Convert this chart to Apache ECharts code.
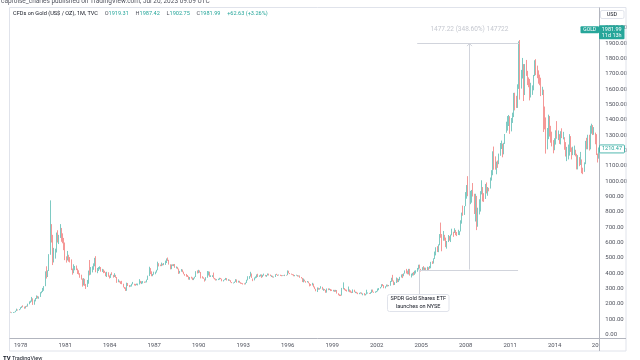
<!DOCTYPE html>
<html>
<head>
<meta charset="utf-8">
<script src="https://cdn.jsdelivr.net/npm/echarts@6/dist/echarts.min.js"></script>
<style>
html,body{margin:0;padding:0;background:#fff;}
#c{width:640px;height:360px;}
</style>
</head>
<body>
<div id="c"></div>
<script>
// Monthly candles, May 1977 .. Jan 2017
const startYear = 1977, startMonth = 5;
const opens = [
/*1977*/147.8,143.0,143.4,144.1,146.0,154.1,161.5,160.5,
/*1978*/165.0,175.8,182.3,181.6,170.9,184.2,183.1,200.3,208.6,217.1,242.6,195.0,
/*1979*/226.0,233.7,251.3,240.1,245.3,274.6,277.5,296.5,315.1,397.3,382.0,415.7,
/*1980*/524,653,637,494,518,535,653,614,631,666,629,619,
/*1981*/589.5,506.5,489,513.8,482.8,479.3,426,406,425.5,428.8,427,414.5,
/*1982*/397.5,387,362.6,320,361.3,325.3,317,342.9,411.5,397,423.3,436,
/*1983*/456.9,481,408.5,414.8,429.3,437.5,416,422,414.3,405,382,405,
/*1984*/381.5,370.8,394.3,388.5,375.8,384.3,373.8,342.4,348.3,343.8,333.5,329,
/*1985*/309,306.7,287.8,329.8,321.4,316.9,317.8,327.5,333.3,326.5,325.1,325.3,
/*1986*/327,345.5,338.2,344,345.8,343.2,345.5,357.5,384.7,423.2,401,383.5,
/*1987*/390.9,405.8,405.9,421.1,453.3,451,447.3,462.5,453.4,459.5,469.5,492.5,
/*1988*/486.5,458,426.2,456.9,449,455.5,436.6,436.8,427.8,397.7,412.4,422.6,
/*1989*/410.2,394,387,383.2,377.6,361.8,373,368.3,359.8,366.5,375.3,408.2,
/*1990*/401,415.1,407.7,368.5,367.8,363.1,352.2,372.3,387.8,408.4,379.5,384.9,
/*1991*/386.2,366,362.7,355.7,357.8,360.4,368.4,362.9,347.4,354.9,357.5,366.3,
/*1992*/353.2,354.1,353.1,341.7,336.4,337.5,343.4,357.9,340,349,339.3,334.2,
/*1993*/333,330.5,327.6,337.8,354.3,377.5,378.5,401.8,371.6,355.5,369.6,370.9,
/*1994*/391.8,378,381.4,389.2,376.5,387.6,388.3,384,385.8,394.9,389.1,383.1,
/*1995*/383.3,374.9,376.4,392,389.8,385.3,387.1,383.4,382.4,383.8,382.7,387.8,
/*1996*/387,405.6,400.7,396.4,391.3,390.6,382,385.3,386.5,379,379.5,371.3,
/*1997*/369.3,345.5,358.6,348.2,340.2,345.6,334.6,326.4,325.4,332.1,311.4,296.8,
/*1998*/289.9,304.9,297.4,301,310.7,293.6,296.3,288.9,273.4,293.9,292.3,294.7,
/*1999*/288,287.1,287.3,279.5,286.6,268.6,261,255.6,254.8,299,299.1,291.4,
/*2000*/290.3,283.3,293.7,276.8,275.1,272.3,288.2,276.8,277,273.7,264.5,269.1,
/*2001*/272.7,265.6,266.7,257.7,263.2,267.5,270.6,265.9,273,293.1,278.8,275.5,
/*2002*/279,282.3,296.9,301.4,308.2,326.6,318.5,304.7,312.8,323.7,316.9,319.1,
/*2003*/347.2,368.1,347.5,334.9,336.8,361.4,346,354.8,375.6,388,386.3,398.4,
/*2004*/416.3,402.2,396.9,426,388.5,393.3,395.8,391.4,407.3,418,428.5,452.1,
/*2005*/438,422.2,434.5,429,435.7,414.5,437.1,429,433.3,473.3,470.8,495.7,
/*2006*/513,568.8,556,582,654.5,643.5,613.5,632.5,623.5,599.3,603.8,646.7,
/*2007*/632,650.5,666.3,661.8,679.4,659.1,650.5,665.5,672,742.8,794,783.5,
/*2008*/833.8,923.3,972.5,916.2,865,887.1,928.3,914,833,884.5,718,814.5,
/*2009*/869.8,927.3,942,924.3,890.7,979.4,927.2,955.5,952,1008.8,1039.9,1181.6,
/*2010*/1096.5,1083.5,1118.6,1113.3,1179.3,1212.7,1244,1181.7,1247.5,1307.8,1358.9,1385.6,
/*2011*/1421.1,1333.1,1409.3,1439,1556,1536.2,1500.3,1628.3,1826,1620,1722,1746,
/*2012*/1564,1737,1710,1668,1664,1561,1604,1622,1693,1773,1720,1714,
/*2013*/1675,1663,1578,1595,1472,1392,1234,1313,1396,1327,1323,1253,
/*2014*/1202,1244,1326,1284,1296,1250,1327,1282,1287,1210,1171,1182,
/*2015*/1183,1283,1212,1183,1183,1190,1172,1095,1132,1115,1142,1065,
/*2016*/1061,1118,1238,1233,1293,1215,1322,1351,1309,1316,1277,1173,
/*2017*/1152
];
const highs = [
/*1977*/148.5,144.5,146.5,147.5,155.0,168.5,163.0,166.0,
/*1978*/178,184,190,182,185,188,201,216,221,245,236,227,
/*1979*/238,255,252,248,276,282,304,316,412,445,418,524,
/*1980*/875,720,650,565,560,665,680,650,720,695,660,630,
/*1981*/600,510,545,520,505,490,430,458,447,450,430,419,
/*1982*/400,390,365,368,363,330,356,417,486,440,445,464,
/*1983*/500,511,434,440,445,440,428,425,416,406,409,406,
/*1984*/385,396,406,389,400,389,375,360,351,347,350,331,
/*1985*/310,307,338,336,322,321,331,343,331,330,332,332,
/*1986*/361,350,347,349,345,346,358,384,442,433,412,395,
/*1987*/410,410,422,475,465,456,469,462,466,482,496,502,
/*1988*/487,458,457,458,459,460,444,441,430,415,427,424,
/*1989*/410,395,395,388,379,375,377,372,370,377,413,418,
/*1990*/422,418,408,380,373,364,374,414,412,410,386,387,
/*1991*/404,369,364,361,364,370,369,364,356,360,369,368,
/*1992*/361,358,354,342,339,345,361,359,351,350,341,337,
/*1993*/335,334,339,357,380,381,409,398,365,372,379,392,
/*1994*/396,386,392,392,389,397,389,388,398,397,391,386,
/*1995*/383,378,393,396,390,391,390,388,386,386,390,389,
/*1996*/418,416,401,397,394,392,388,390,388,385,385,375,
/*1997*/369,365,358,348,349,346,335,329,337,332,313,298,
/*1998*/307,305,302,315,311,300,297,291,300,301,300,297,
/*1999*/293,291,291,291,290,269,262,260,304,340,303,295,
/*2000*/292,313,294,288,280,294,292,280,278,273,272,275,
/*2001*/274,268,270,265,292,274,271,276,293,293,279,281,
/*2002*/284,300,303,310,328,329,322,315,326,325,323,349,
/*2003*/370,389,352,341,372,367,363,376,392,395,399,418,
/*2004*/428,417,428,428,397,402,408,416,419,434,455,456,
/*2005*/428,439,446,437,436,442,439,447,474,478,497,541,
/*2006*/569,576,588,655,730,655,675,650,632,610,649,642,
/*2007*/652,690,670,693,682,669,683,674,745,795,841,838,
/*2008*/929,975,1033,933,937,943,988,918,918,904,827,882,
/*2009*/935,1006,962,922,982,992,962,957,1024,1072,1195,1226,
/*2010*/1162,1128,1135,1180,1249,1265,1245,1250,1308,1388,1425,1432,
/*2011*/1424,1412,1447,1576,1577,1557,1632,1912,1921,1726,1804,1764,
/*2012*/1764,1791,1720,1677,1667,1642,1625,1693,1789,1796,1754,1723,
/*2013*/1695,1675,1616,1597,1487,1416,1347,1434,1425,1361,1323,1268,
/*2014*/1280,1332,1392,1331,1307,1326,1345,1322,1287,1255,1224,1239,
/*2015*/1307,1294,1220,1225,1232,1205,1179,1170,1157,1191,1142,1088,
/*2016*/1123,1263,1283,1303,1303,1362,1375,1366,1353,1317,1307,1180,
/*2017*/1220
];
const lows = [
/*1977*/142.0,139.5,140.5,143.5,145.5,153.0,156.5,158.5,
/*1978*/164,173,178,168,170,180,182,197,207,214,193,194,
/*1979*/216,232,235,233,245,269,277,285,315,365,375,414,
/*1980*/520,600,453,470,495,535,600,590,630,605,595,550,
/*1981*/485,469,483,475,470,420,390,400,419,420,395,391,
/*1982*/370,358,312,320,317,297,310,331,386,390,405,422,
/*1983*/445,406,400,414,425,410,408,400,402,380,375,377,
/*1984*/365,369,387,371,375,370,337,341,339,330,328,307,
/*1985*/298,284,285,316,309,312,313,327,320,318,322,320,
/*1986*/326,334,329,333,337,339,340,356,381,394,380,380,
/*1987*/390,393,404,419,444,446,446,450,452,454,466,480,
/*1988*/456,425,426,447,446,435,431,426,395,398,410,406,
/*1989*/393,383,377,375,358,357,365,355,355,365,375,398,
/*1990*/400,403,366,366,363,345,352,370,385,376,375,375,
/*1991*/366,359,352,353,355,358,361,347,346,354,356,352,
/*1992*/350,350,340,335,333,336,343,338,339,337,331,330,
/*1993*/326,326,327,336,353,363,378,369,348,353,366,370,
/*1994*/375,376,379,369,374,384,379,376,385,385,381,375,
/*1995*/372,371,375,388,382,385,382,380,381,382,381,384,
/*1996*/387,399,394,390,387,380,380,384,378,378,370,366,
/*1997*/342,340,346,338,340,334,314,318,320,308,296,282,
/*1998*/277,292,293,299,292,285,288,272,273,289,290,283,
/*1999*/284,281,278,279,267,256,251,251,254,295,289,284,
/*2000*/280,280,276,273,270,271,276,270,268,263,263,267,
/*2001*/263,256,255,255,262,267,265,265,271,276,272,272,
/*2002*/276,281,289,300,308,316,302,301,312,313,315,318,
/*2003*/343,346,322,323,336,341,342,353,372,368,380,397,
/*2004*/398,393,392,384,372,384,385,389,398,409,424,430,
/*2005*/411,414,422,421,414,414,418,429,432,460,463,492,
/*2006*/516,538,537,582,631,543,612,612,570,560,603,612,
/*2007*/603,647,637,662,648,642,649,648,672,723,775,780,
/*2008*/837,886,902,860,850,860,900,786,737,681,703,783,
/*2009*/802,914,868,865,884,920,905,934,952,1004,1039,1075,
/*2010*/1075,1045,1087,1111,1166,1210,1156,1175,1243,1316,1330,1360,
/*2011*/1309,1325,1380,1418,1462,1478,1478,1602,1532,1604,1670,1523,
/*2012*/1562,1687,1627,1613,1527,1546,1563,1593,1686,1692,1672,1636,
/*2013*/1626,1555,1562,1321,1338,1180,1208,1274,1291,1251,1227,1182,
/*2014*/1202,1239,1277,1268,1243,1240,1281,1273,1205,1161,1131,1142,
/*2015*/1167,1191,1142,1170,1170,1162,1077,1077,1098,1106,1052,1046,
/*2016*/1061,1111,1208,1208,1200,1208,1310,1301,1303,1241,1171,1122,
/*2017*/1147
];
const closes = [
/*1977*/143.0,143.4,144.1,146.0,154.1,161.5,160.5,165.0,
/*1978*/175.8,182.3,181.6,170.9,184.2,183.1,200.3,208.6,217.1,242.6,195.0,226.0,
/*1979*/233.7,251.3,240.1,245.3,274.6,277.5,296.5,315.1,397.3,382.0,415.7,524.0,
/*1980*/653,637,494,518,535,653,614,631,666,629,619,589.5,
/*1981*/506.5,489,513.8,482.8,479.3,426,406,425.5,428.8,427,414.5,397.5,
/*1982*/387,362.6,320,361.3,325.3,317,342.9,411.5,397,423.3,436,456.9,
/*1983*/481,408.5,414.8,429.3,437.5,416,422,414.3,405,382,405,381.5,
/*1984*/370.8,394.3,388.5,375.8,384.3,373.8,342.4,348.3,343.8,333.5,329,309,
/*1985*/306.7,287.8,329.8,321.4,316.9,317.8,327.5,333.3,326.5,325.1,325.3,327,
/*1986*/345.5,338.2,344,345.8,343.2,345.5,357.5,384.7,423.2,401,383.5,390.9,
/*1987*/405.8,405.9,421.1,453.3,451,447.3,462.5,453.4,459.5,469.5,492.5,486.5,
/*1988*/458,426.2,456.9,449,455.5,436.6,436.8,427.8,397.7,412.4,422.6,410.2,
/*1989*/394,387,383.2,377.6,361.8,373,368.3,359.8,366.5,375.3,408.2,401,
/*1990*/415.1,407.7,368.5,367.8,363.1,352.2,372.3,387.8,408.4,379.5,384.9,386.2,
/*1991*/366,362.7,355.7,357.8,360.4,368.4,362.9,347.4,354.9,357.5,366.3,353.2,
/*1992*/354.1,353.1,341.7,336.4,337.5,343.4,357.9,340,349,339.3,334.2,333,
/*1993*/330.5,327.6,337.8,354.3,377.5,378.5,401.8,371.6,355.5,369.6,370.9,391.8,
/*1994*/378,381.4,389.2,376.5,387.6,388.3,384,385.8,394.9,389.1,383.1,383.3,
/*1995*/374.9,376.4,392,389.8,385.3,387.1,383.4,382.4,383.8,382.7,387.8,387,
/*1996*/405.6,400.7,396.4,391.3,390.6,382,385.3,386.5,379,379.5,371.3,369.3,
/*1997*/345.5,358.6,348.2,340.2,345.6,334.6,326.4,325.4,332.1,311.4,296.8,289.9,
/*1998*/304.9,297.4,301,310.7,293.6,296.3,288.9,273.4,293.9,292.3,294.7,288,
/*1999*/287.1,287.3,279.5,286.6,268.6,261,255.6,254.8,299,299.1,291.4,290.3,
/*2000*/283.3,293.7,276.8,275.1,272.3,288.2,276.8,277,273.7,264.5,269.1,272.7,
/*2001*/265.6,266.7,257.7,263.2,267.5,270.6,265.9,273,293.1,278.8,275.5,279,
/*2002*/282.3,296.9,301.4,308.2,326.6,318.5,304.7,312.8,323.7,316.9,319.1,347.2,
/*2003*/368.1,347.5,334.9,336.8,361.4,346,354.8,375.6,388,386.3,398.4,416.3,
/*2004*/402.2,396.9,426,388.5,393.3,395.8,391.4,407.3,418,428.5,452.1,438,
/*2005*/422.2,434.5,429,435.7,414.5,437.1,429,433.3,473.3,470.8,495.7,513,
/*2006*/568.8,556,582,654.5,643.5,613.5,632.5,623.5,599.3,603.8,646.7,632,
/*2007*/650.5,666.3,661.8,679.4,659.1,650.5,665.5,672,742.8,794,783.5,833.8,
/*2008*/923.3,972.5,916.2,865,887.1,928.3,914,833,884.5,718,814.5,869.8,
/*2009*/927.3,942,924.3,890.7,979.4,927.2,955.5,952,1008.8,1039.9,1181.6,1096.5,
/*2010*/1083.5,1118.6,1113.3,1179.3,1212.7,1244,1181.7,1247.5,1307.8,1358.9,1385.6,1421.1,
/*2011*/1333.1,1409.3,1439,1556,1536.2,1500.3,1628.3,1826,1620,1722,1746,1564,
/*2012*/1737,1710,1668,1664,1561,1604,1622,1693,1773,1720,1714,1675,
/*2013*/1663,1578,1595,1472,1392,1234,1313,1396,1327,1323,1253,1202,
/*2014*/1244,1326,1284,1296,1250,1327,1282,1287,1210,1171,1182,1183,
/*2015*/1283,1212,1183,1183,1190,1172,1095,1132,1115,1142,1065,1061,
/*2016*/1118,1238,1233,1293,1215,1322,1351,1309,1316,1277,1173,1152,
/*2017*/1210.47
];
const yearTicks = [1978,1981,1984,1987,1990,1993,1996,1999,2002,2005,2008,2011,2014];
const headerTitle = 'CFDs on Gold (US$ / OZ), 1M, TVC';
const ohlcLabels = [['O','1919.31'],['H','1987.42'],['L','1902.75'],['C','1981.99']];
const changeText = '+62.63 (+3.26%)';
const lastPrice = '1981.99';
const lastPriceValue = 1981.99;
const markerPrice = 1210.47;
const measureText = '1477.22 (348.60%) 147722';
const measureLow = 423.76, measureHigh = 1900.98;

// categories
const months = [];
{
  let y = startYear, m = startMonth;
  for (let i = 0; i < closes.length; i++) {
    months.push(y + '-' + String(m).padStart(2, '0'));
    m++; if (m > 12) { m = 1; y++; }
  }
}
const candles = closes.map((c, i) => [opens[i], c, lows[i], highs[i]]);

const UP = '#26a69a', DOWN = '#ef5350';
const FONT = 'Roboto, "Noto Sans", sans-serif';
const chart = echarts.init(document.getElementById('c'), null, {renderer: 'canvas'});

const option = {
  animation: false,
  backgroundColor: '#ffffff',
  grid: {left: 10.2, right: 40.2, top: 12.57, bottom: 25.5},
  xAxis: {
    type: 'category', data: months, boundaryGap: true,
    axisLine: {show: false}, axisTick: {show: false}, splitLine: {show: false},
    axisLabel: {
      interval: (idx, val) => {
        const y = +val.slice(0, 4), m = val.slice(5);
        return m === '01' && yearTicks.indexOf(y) >= 0;
      },
      formatter: v => v.slice(0, 4),
      fontSize: 6, color: '#50535e', fontFamily: FONT, margin: 7.5
    }
  },
  yAxis: {
    type: 'value', position: 'right', min: 0, max: 2100, interval: 100,
    axisLine: {show: false}, axisTick: {show: false}, splitLine: {show: false},
    axisLabel: {
      formatter: v => v >= 2100 ? '' : v.toFixed(2),
      fontSize: 6, color: '#50535e', fontFamily: FONT, margin: 5.5, align: 'left'
    }
  },
  series: [{
    type: 'candlestick', data: candles, barWidth: 1,
    itemStyle: {color: UP, color0: DOWN, borderColor: UP, borderColor0: DOWN, borderWidth: 0.6}
  }]
};
chart.setOption(option);

// pixel helpers via library scales
const px = (i, v) => chart.convertToPixel({gridIndex: 0}, [i, v]);
const yOf = v => px(0, v)[1];
const xOfMonth = s => px(months.indexOf(s), 0)[0];

const yLast = yOf(lastPriceValue);
const yMark = yOf(markerPrice);
const yLo = yOf(measureLow), yHi = yOf(measureHigh);
const xSpdr = xOfMonth('2004-11');
const xPeak = xOfMonth('2011-09');
const xMid = (xSpdr + xPeak) / 2;
const LINE = '#b2b5be';
const MEAS = '#d1d4dc';

let ohlcStr = '{t|' + headerTitle + '}  ';
ohlcLabels.forEach(p => { ohlcStr += '{k|' + p[0] + '}{v|' + p[1] + '}  '; });
ohlcStr += '{v|' + changeText + '}';

const graphics = [
  // header
  {type: 'text', style: {x: 1, y: 1.5, text: 'caproise_charles published on TradingView.com, Jul 20, 2023 09:09 UTC', fill: '#50535e', font: '6.5px ' + FONT, textVerticalAlign: 'middle'}},
  // frame
  {type: 'rect', shape: {x: 9.5, y: 7.5, width: 616.5, height: 343.5}, style: {fill: 'none', stroke: '#e0e3eb', lineWidth: 1}},
  // axis lines
  {type: 'line', shape: {x1: 9.5, y1: 338.5, x2: 626, y2: 338.5}, style: {stroke: LINE, lineWidth: 1}},
  {type: 'line', shape: {x1: 599.5, y1: 7.5, x2: 599.5, y2: 351}, style: {stroke: LINE, lineWidth: 1}},
  // title line
  {type: 'text', style: {x: 13, y: 14, text: ohlcStr, textVerticalAlign: 'middle',
    rich: {t: {fill: '#131722', font: '5.6px ' + FONT}, k: {fill: '#50535e', font: '5.6px ' + FONT}, v: {fill: UP, font: '5.6px ' + FONT}}}},
  // truncated last year label
  {type: 'text', style: {x: 598.5, y: 345, text: '20', fill: '#50535e', font: '6px ' + FONT, textAlign: 'right', textVerticalAlign: 'middle'}},
  // USD box
  {type: 'rect', shape: {x: 600.5, y: 10.5, width: 23.5, height: 8, r: 1.5}, style: {fill: '#fff', stroke: '#e0e3eb', lineWidth: 1}},
  {type: 'text', style: {x: 612, y: 14.5, text: 'USD', fill: '#131722', font: '5.5px ' + FONT, textAlign: 'center', textVerticalAlign: 'middle'}},
  // GOLD label
  {type: 'rect', shape: {x: 580.5, y: yLast - 4.5, width: 18.5, height: 7, r: 1}, style: {fill: UP}},
  {type: 'text', style: {x: 589.7, y: yLast - 1, text: 'GOLD', fill: '#fff', font: '5px ' + FONT, textAlign: 'center', textVerticalAlign: 'middle'}},
  {type: 'rect', shape: {x: 599, y: yLast - 5.5, width: 25.5, height: 14, r: 1}, style: {fill: UP}},
  {type: 'text', style: {x: 611.7, y: yLast - 1.5, text: lastPrice, fill: '#fff', font: '5.5px ' + FONT, textAlign: 'center', textVerticalAlign: 'middle'}},
  {type: 'text', style: {x: 611.7, y: yLast + 4.5, text: '11d 13h', fill: '#fff', font: '5.5px ' + FONT, textAlign: 'center', textVerticalAlign: 'middle'}},
  // marker price
  {type: 'rect', shape: {x: 599.5, y: yMark - 4, width: 25, height: 8, r: 1}, style: {fill: '#fff', stroke: UP, lineWidth: 0.8}},
  {type: 'text', style: {x: 612, y: yMark, text: markerPrice.toFixed(2), fill: UP, font: '5.5px ' + FONT, textAlign: 'center', textVerticalAlign: 'middle'}},
  // measurement
  {type: 'line', shape: {x1: xSpdr - 1.5, y1: Math.round(yHi) + 0.5, x2: xPeak - 1, y2: Math.round(yHi) + 0.5}, style: {stroke: MEAS, lineWidth: 1}},
  {type: 'line', shape: {x1: xSpdr, y1: Math.round(yLo) + 0.5, x2: xPeak - 2, y2: Math.round(yLo) + 0.5}, style: {stroke: MEAS, lineWidth: 1}},
  {type: 'line', shape: {x1: Math.round(xMid) + 0.5, y1: yLo, x2: Math.round(xMid) + 0.5, y2: yHi}, style: {stroke: MEAS, lineWidth: 1}},
  {type: 'polyline', shape: {points: [[Math.round(xMid) - 2, yHi + 3], [Math.round(xMid) + 0.5, yHi + 0.5], [Math.round(xMid) + 3, yHi + 3]]}, style: {stroke: MEAS, fill: 'none', lineWidth: 1}},
  {type: 'text', style: {x: xMid, y: 29.3, text: measureText, fill: '#c5c8d0', font: '6.5px ' + FONT, textAlign: 'center', textVerticalAlign: 'middle'}},
  // SPDR callout
  {type: 'line', shape: {x1: Math.round(xSpdr) + 0.5, y1: yLo, x2: Math.round(xSpdr) + 0.5, y2: 294}, style: {stroke: MEAS, lineWidth: 1}},
  {type: 'rect', shape: {x: 387.5, y: 294.5, width: 61.5, height: 17, r: 2}, style: {fill: '#fff', stroke: '#e0e3eb', lineWidth: 1}},
  {type: 'text', style: {x: 418.2, y: 298.8, text: 'SPDR Gold Shares ETF', fill: '#131722', font: '5.5px ' + FONT, textAlign: 'center', textVerticalAlign: 'middle'}},
  {type: 'text', style: {x: 418.2, y: 306.3, text: 'launches on NYSE', fill: '#131722', font: '5.5px ' + FONT, textAlign: 'center', textVerticalAlign: 'middle'}},
  // footer
  {type: 'text', style: {x: 3, y: 358.5, text: 'TV', fill: '#131722', font: 'bold 6px ' + FONT, textVerticalAlign: 'middle'}},
  {type: 'text', style: {x: 12, y: 358.5, text: 'TradingView', fill: '#131722', font: '5.5px ' + FONT, textVerticalAlign: 'middle'}}
];
graphics.forEach(g => { g.z = 100; });
chart.setOption({graphic: graphics});
</script>
</body>
</html>
